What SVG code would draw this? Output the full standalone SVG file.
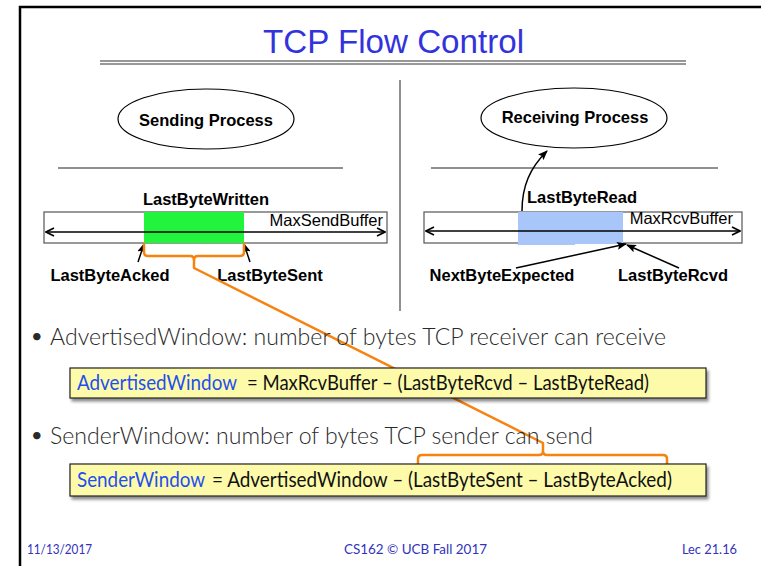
<svg xmlns="http://www.w3.org/2000/svg" width="761" height="566" viewBox="0 0 761 566">
  <style>
    .lbl { font-family: "Liberation Sans", Arial, sans-serif; font-size: 16.5px; font-weight: bold; fill: #000; }
    .reg { font-family: "Liberation Sans", Arial, sans-serif; font-size: 16.5px; fill: #000; }
    .title { font-family: "Liberation Sans", Arial, sans-serif; font-size: 33px; fill: #3333dd; }
    .body { font-family: Lato, "Open Sans", sans-serif; font-size: 24px; font-weight: 300; fill: #2a2a2a; }
    .dot { font-family: Lato, "Open Sans", sans-serif; font-size: 20px; fill: #2a2a2a; }
    .eq { font-family: Lato, "Open Sans", sans-serif; font-size: 21px; fill: #111; }
    .eqkey { font-family: Lato, "Open Sans", sans-serif; font-size: 21px; fill: #1f4ff0; }
    .foot { font-family: Lato, "Open Sans", sans-serif; font-size: 13px; fill: #3333bb; }
    .rule { stroke: #333; stroke-width: 1.2; fill: none; }
    .buf { fill: #fff; stroke: #555; stroke-width: 1.2; }
    .proc { fill: #fff; stroke: #000; stroke-width: 1.2; }
    .ptr { stroke: #000; stroke-width: 1.5; fill: none; marker-end: url(#head); }
    .span { stroke: #000; stroke-width: 1.6; fill: none; marker-start: url(#chev); marker-end: url(#chev); }
    .brace { stroke: #f7820e; stroke-width: 2.5; fill: none; stroke-linejoin: round; }
    .box { fill: #fdfbaa; stroke: #222; stroke-width: 1.2; filter: url(#shadow); }
  </style>
  <defs>
    <marker id="head" viewBox="0 0 10 8" refX="9" refY="4" markerWidth="10" markerHeight="8" markerUnits="userSpaceOnUse" orient="auto">
      <path d="M0,0 L10,4 L0,8 L2,4 Z" fill="#000"/>
    </marker>
    <marker id="chev" viewBox="0 0 10 10" refX="9" refY="5" markerWidth="10" markerHeight="10" markerUnits="userSpaceOnUse" orient="auto-start-reverse">
      <path d="M1,1 L9,5 L1,9" fill="none" stroke="#000" stroke-width="1.6"/>
    </marker>
    <filter id="shadow" x="-5%" y="-30%" width="110%" height="180%">
      <feDropShadow dx="2" dy="3" stdDeviation="1.8" flood-color="#000" flood-opacity="0.45"/>
    </filter>
  </defs>

  <!-- slide frame -->
  <path d="M20,566 V7 H761" fill="none" stroke="#000" stroke-width="2.5"/>

  <!-- heading -->
  <text class="title" x="263" y="53" textLength="261" lengthAdjust="spacingAndGlyphs">TCP Flow Control</text>
  <line class="rule" x1="100" y1="61" x2="686" y2="61"/>
  <line class="rule" x1="100" y1="64" x2="686" y2="64"/>

  <!-- separators -->
  <line x1="400" y1="80" x2="400" y2="311" stroke="#222" stroke-width="1"/>
  <line x1="58" y1="168" x2="343" y2="168" stroke="#222" stroke-width="1.2"/>
  <line x1="431" y1="168" x2="718" y2="168" stroke="#222" stroke-width="1.2"/>

  <!-- sender side -->
  <g id="sending-process">
    <ellipse class="proc" cx="206" cy="119" rx="88" ry="30"/>
    <text class="lbl" x="206" y="126" text-anchor="middle">Sending Process</text>
  </g>
  <g id="send-buffer">
    <rect class="buf" x="44" y="212" width="343" height="31"/>
    <rect x="144" y="212" width="100" height="31" fill="#22f33c"/>
    <text class="reg" x="383" y="226" text-anchor="end">MaxSendBuffer</text>
    <text class="lbl" x="206" y="205" text-anchor="middle">LastByteWritten</text>
  </g>
  <g id="last-byte-acked">
    <text class="lbl" x="110" y="281" text-anchor="middle">LastByteAcked</text>
  </g>
  <g id="last-byte-sent">
    <text class="lbl" x="270" y="281" text-anchor="middle">LastByteSent</text>
  </g>

  <!-- receiver side -->
  <g id="receiving-process">
    <ellipse class="proc" cx="574" cy="118" rx="93" ry="30"/>
    <text class="lbl" x="575" y="123" text-anchor="middle">Receiving Process</text>
  </g>
  <g id="rcv-buffer">
    <rect class="buf" x="424" y="212" width="318" height="31"/>
    <rect x="518" y="212" width="57" height="33" fill="#a9c6fa"/>
    <rect x="575" y="212" width="48" height="32" fill="#a9c6fa"/>
    <text class="reg" x="733" y="224" text-anchor="end">MaxRcvBuffer</text>
    <text class="lbl" x="527" y="203">LastByteRead</text>
  </g>
  <g id="next-byte-expected">
    <text class="lbl" x="502" y="281" text-anchor="middle">NextByteExpected</text>
  </g>
  <g id="last-byte-rcvd">
    <text class="lbl" x="673" y="281" text-anchor="middle">LastByteRcvd</text>
  </g>

  <!-- connectors -->
  <g id="connectors">
    <line class="span" x1="46" y1="232" x2="385" y2="232"/>
    <line class="span" x1="426" y1="231" x2="740" y2="231"/>
    <line class="ptr" x1="138" y1="262" x2="144" y2="244"/>
    <line class="ptr" x1="250" y1="262" x2="244" y2="244"/>
    <path class="ptr" d="M522,211 C522,186 530,168 547,151"/>
    <line class="ptr" x1="516" y1="268" x2="626" y2="244"/>
    <line class="ptr" x1="679" y1="268" x2="627" y2="245"/>
    <!-- span of unacknowledged bytes tied to its term in the formula -->
    <path class="brace" d="M144,243 V252 Q144,256 148,256 H190 Q194,256 194,260 V268 L543,443 V451 Q543,455 539,455 H422 Q418,455 418,459 V468 M543,451 Q543,455 547,455 H663 Q667,455 667,459 V468"/>
    <path class="brace" d="M244,243 V252 Q244,256 240,256 H198 Q194,256 194,260"/>
  </g>

  <!-- bullet points -->
  <text class="dot" x="31" y="343">•</text>
  <text class="body" x="50" y="345" textLength="616" lengthAdjust="spacingAndGlyphs">AdvertisedWindow: number of bytes TCP receiver can receive</text>
  <text class="dot" x="31" y="442">•</text>
  <text class="body" x="50" y="444" textLength="543" lengthAdjust="spacingAndGlyphs">SenderWindow: number of bytes TCP sender can send</text>

  <g id="advertised-window-formula">
    <rect class="box" x="70" y="368" width="636" height="30"/>
    <text class="eqkey" x="77" y="390" textLength="160" lengthAdjust="spacingAndGlyphs">AdvertisedWindow</text>
    <text class="eq" x="247" y="390" textLength="402" lengthAdjust="spacingAndGlyphs">= MaxRcvBuffer – (LastByteRcvd – LastByteRead)</text>
  </g>
  <g id="sender-window-formula">
    <rect class="box" x="70" y="464" width="636" height="32"/>
    <text class="eqkey" x="77" y="487" textLength="128" lengthAdjust="spacingAndGlyphs">SenderWindow</text>
    <text class="eq" x="212" y="487" textLength="460" lengthAdjust="spacingAndGlyphs">= AdvertisedWindow – (LastByteSent – LastByteAcked)</text>
  </g>

  <!-- footer -->
  <text class="foot" x="27" y="554" textLength="65" lengthAdjust="spacingAndGlyphs">11/13/2017</text>
  <text class="foot" x="344" y="554" textLength="143" lengthAdjust="spacingAndGlyphs">CS162 © UCB Fall 2017</text>
  <text class="foot" x="682" y="554" textLength="55" lengthAdjust="spacingAndGlyphs">Lec 21.16</text>
</svg>
